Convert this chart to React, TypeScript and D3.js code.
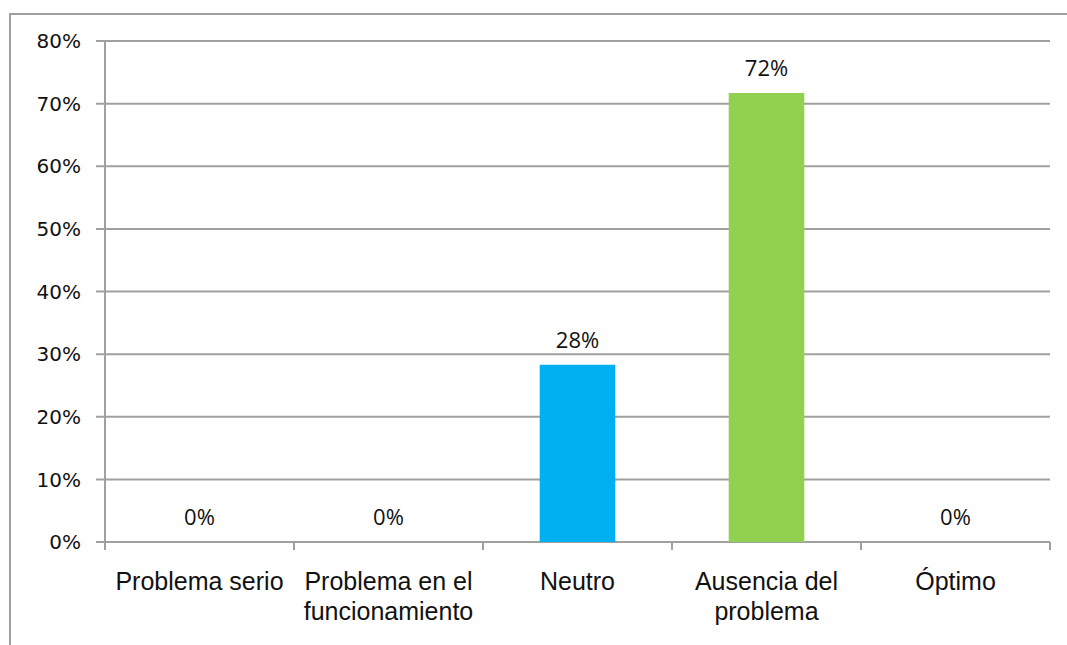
import React from "react";
import * as d3 from "d3";

const categories: string[][] = [
  ["Problema serio"],
  ["Problema en el", "funcionamiento"],
  ["Neutro"],
  ["Ausencia del", "problema"],
  ["Óptimo"],
];
const values: number[] = [0, 0, 0.283, 0.717, 0];
const valueLabels: string[] = ["0%", "0%", "28%", "72%", "0%"];
const barColors: string[] = ["#4F81BD", "#4F81BD", "#00B0F0", "#92D050", "#4F81BD"];
const yTicks: number[] = [0, 0.1, 0.2, 0.3, 0.4, 0.5, 0.6, 0.7, 0.8];

const W = 1067;
const H = 645;
const left = 105;
const right = 1050;
const top = 41;
const bottom = 542;
const grid = "#a0a0a0";

export default function App() {
  const x = d3
    .scaleBand<number>()
    .domain(categories.map((_, i) => i))
    .range([left, right])
    .paddingInner(0)
    .paddingOuter(0);
  const y = d3.scaleLinear().domain([0, 0.8]).range([bottom, top]);
  const bw = x.bandwidth() * 0.4;
  const fmt = d3.format(".0%");
  const boundaries = categories.map((_, i) => x(i)!).concat([right]);

  return (
    <svg
      width={W}
      height={H}
      style={{ position: "absolute", left: 0, top: 0, background: "#fff" }}
    >
      <rect x={0} y={0} width={W} height={H} fill="#fff" />
      <rect x={10} y={14} width={W + 20} height={H + 20} fill="none" stroke={grid} strokeWidth={2} />
      {/* gridlines and y ticks */}
      {yTicks.map((t) => (
        <g key={t}>
          <line x1={96} x2={right} y1={y(t)} y2={y(t)} stroke={grid} strokeWidth={2} />
          <text
            x={81}
            y={y(t)}
            dy="0.36em"
            textAnchor="end"
            fontFamily="DejaVu Sans, Verdana, sans-serif"
            fontSize={20}
            fill="#111"
          >
            {fmt(t)}
          </text>
        </g>
      ))}
      {/* y axis */}
      <line x1={left} x2={left} y1={top} y2={bottom + 8} stroke={grid} strokeWidth={2} />
      {/* x tick marks */}
      {boundaries.map((b, i) => (
        <line key={i} x1={b} x2={b} y1={bottom} y2={bottom + 8} stroke={grid} strokeWidth={2} />
      ))}
      {/* bars */}
      {values.map((v, i) => {
        const cx = x(i)! + x.bandwidth() / 2;
        return (
          <g key={i}>
            {v > 0 && (
              <rect
                x={cx - bw / 2}
                y={y(v)}
                width={bw}
                height={bottom - y(v)}
                fill={barColors[i]}
              />
            )}
            <text
              x={cx}
              y={y(v) - 17}
              textAnchor="middle"
              fontFamily="Open Sans, sans-serif"
              fontSize={22}
              fill="#111"
            >
              {valueLabels[i]}
            </text>
          </g>
        );
      })}
      {/* category labels */}
      {categories.map((lines, i) => {
        const cx = x(i)! + x.bandwidth() / 2;
        return (
          <text
            key={i}
            x={cx}
            y={590}
            textAnchor="middle"
            fontFamily="Liberation Sans, Arial, sans-serif"
            fontSize={25}
            fill="#111"
          >
            {lines.map((l, j) => (
              <tspan key={j} x={cx} dy={j === 0 ? 0 : 30}>
                {l}
              </tspan>
            ))}
          </text>
        );
      })}
    </svg>
  );
}
